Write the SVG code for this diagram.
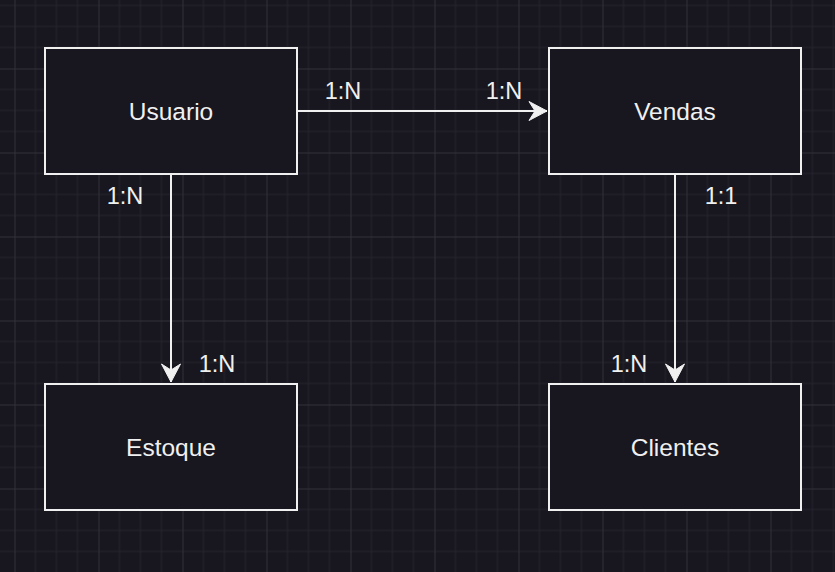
<svg xmlns="http://www.w3.org/2000/svg" width="835" height="572" viewBox="0 0 835 572">
<style>
.box{fill:#18161e;stroke:#f0f0f0;stroke-width:2}
.lbl{font-family:"Liberation Sans",Arial,sans-serif;font-size:24.5px;fill:#f0f0f0;text-anchor:middle}
.el{font-family:"Liberation Sans",Arial,sans-serif;font-size:23.5px;fill:#f0f0f0;text-anchor:middle}
.conn{fill:none;stroke:#f0f0f0;stroke-width:2}
.minor{stroke:#25232b;stroke-width:1}
.major{stroke:#32303a;stroke-width:1}
</style>
<defs>
<pattern id="grid" patternUnits="userSpaceOnUse" x="14.5" y="-15.5" width="84" height="84">
<path class="minor" d="M21,0V84M42,0V84M63,0V84M0,21H84M0,42H84M0,63H84"/>
<path class="major" d="M0.5,0V84M0,0.5H84"/>
</pattern>
<marker id="arr" markerUnits="userSpaceOnUse" markerWidth="20" markerHeight="22" viewBox="-19 -11 20 22" refX="0" refY="0" orient="auto">
<path d="M0,0L-18,-9.5L-12,0L-18,9.5Z" fill="#f0f0f0" stroke="#f0f0f0" stroke-width="1"/>
</marker>
</defs>
<rect width="835" height="572" fill="#18161e"/>
<rect width="835" height="572" fill="url(#grid)"/>
<g id="connectors">
<path class="conn" d="M297,111H547" marker-end="url(#arr)"/>
<path class="conn" d="M171,174V382" marker-end="url(#arr)"/>
<path class="conn" d="M675,174V382" marker-end="url(#arr)"/>
<text class="el" x="343" y="99">1:N</text>
<text class="el" x="504" y="99">1:N</text>
<text class="el" x="125" y="204">1:N</text>
<text class="el" x="217" y="372">1:N</text>
<text class="el" x="721" y="204">1:1</text>
<text class="el" x="629" y="372">1:N</text>
</g>
<g id="usuario">
<rect class="box" x="45" y="48" width="252" height="126"/>
<text class="lbl" x="171" y="119.5">Usuario</text>
</g>
<g id="vendas">
<rect class="box" x="549" y="48" width="252" height="126"/>
<text class="lbl" x="675" y="119.5">Vendas</text>
</g>
<g id="estoque">
<rect class="box" x="45" y="384" width="252" height="126"/>
<text class="lbl" x="171" y="455.5">Estoque</text>
</g>
<g id="clientes">
<rect class="box" x="549" y="384" width="252" height="126"/>
<text class="lbl" x="675" y="455.5">Clientes</text>
</g>
</svg>
